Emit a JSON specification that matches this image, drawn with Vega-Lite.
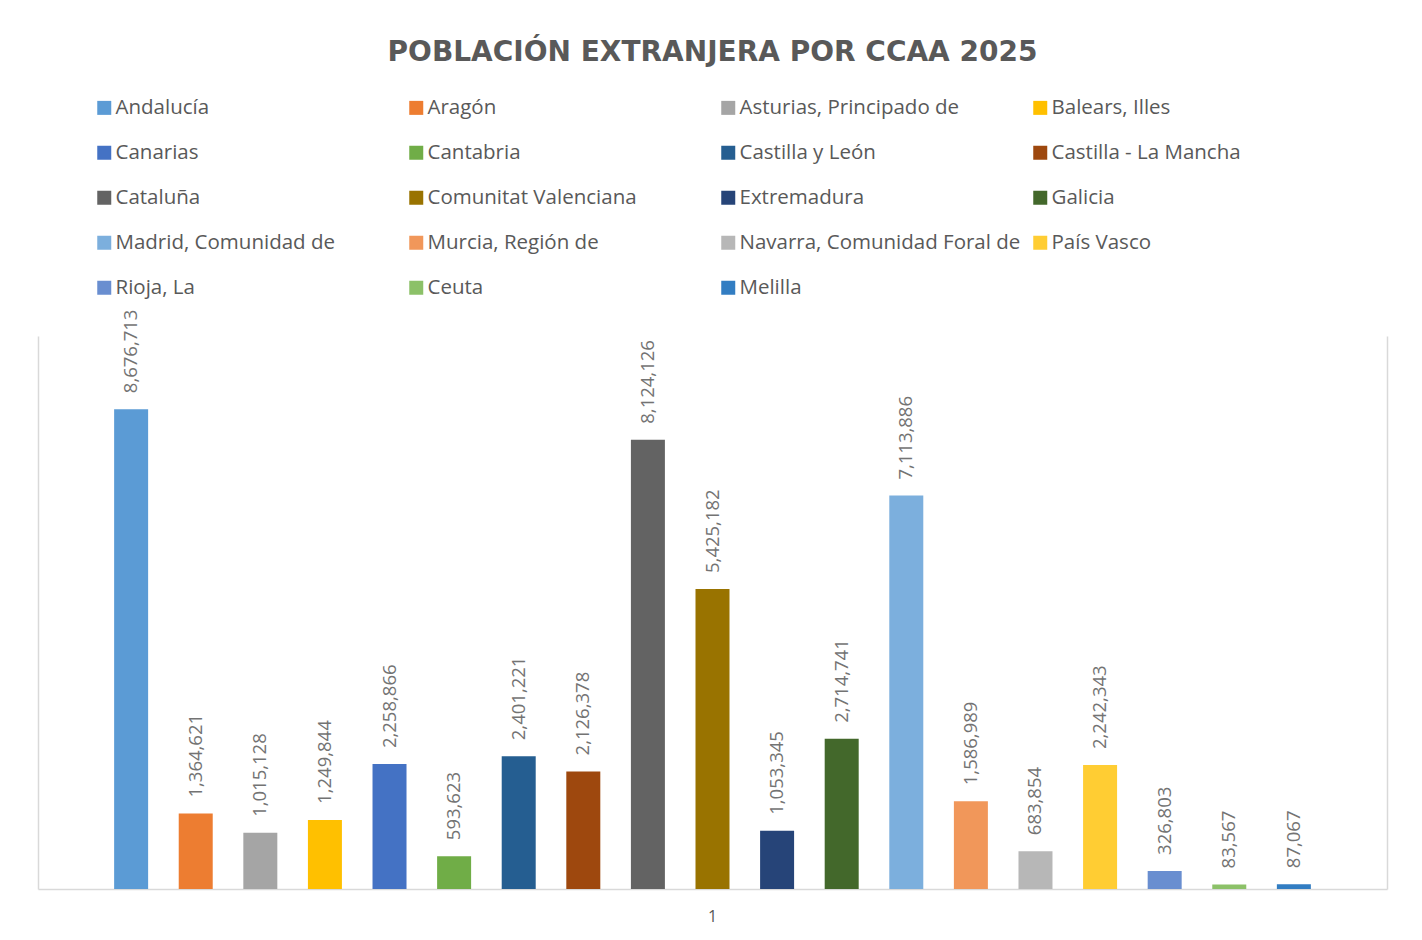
{
  "$schema": "https://vega.github.io/schema/vega-lite/v6.json",
  "autosize": {"type": "none"},
  "width": 1349,
  "height": 553,
  "padding": {"left": 38, "top": 336, "right": 35, "bottom": 51},
  "background": "white",
  "title": {
    "text": "POBLACIÓN EXTRANJERA POR CCAA 2025",
    "font": "DejaVu Sans",
    "fontSize": 28,
    "fontWeight": "bold",
    "color": "#595959",
    "anchor": "middle",
    "frame": "group",
    "offset": 31
  },
  "data": {
    "values": [
      {"cat": "1", "ccaa": "Andalucía", "poblacion": 8676713},
      {"cat": "1", "ccaa": "Aragón", "poblacion": 1364621},
      {"cat": "1", "ccaa": "Asturias, Principado de", "poblacion": 1015128},
      {"cat": "1", "ccaa": "Balears, Illes", "poblacion": 1249844},
      {"cat": "1", "ccaa": "Canarias", "poblacion": 2258866},
      {"cat": "1", "ccaa": "Cantabria", "poblacion": 593623},
      {"cat": "1", "ccaa": "Castilla y León", "poblacion": 2401221},
      {"cat": "1", "ccaa": "Castilla - La Mancha", "poblacion": 2126378},
      {"cat": "1", "ccaa": "Cataluña", "poblacion": 8124126},
      {"cat": "1", "ccaa": "Comunitat Valenciana", "poblacion": 5425182},
      {"cat": "1", "ccaa": "Extremadura", "poblacion": 1053345},
      {"cat": "1", "ccaa": "Galicia", "poblacion": 2714741},
      {"cat": "1", "ccaa": "Madrid, Comunidad de", "poblacion": 7113886},
      {"cat": "1", "ccaa": "Murcia, Región de", "poblacion": 1586989},
      {"cat": "1", "ccaa": "Navarra, Comunidad Foral de", "poblacion": 683854},
      {"cat": "1", "ccaa": "País Vasco", "poblacion": 2242343},
      {"cat": "1", "ccaa": "Rioja, La", "poblacion": 326803},
      {"cat": "1", "ccaa": "Ceuta", "poblacion": 83567},
      {"cat": "1", "ccaa": "Melilla", "poblacion": 87067}
    ]
  },
  "encoding": {
    "x": {
      "field": "cat",
      "type": "nominal",
      "title": null,
      "scale": {"paddingInner": 0, "paddingOuter": 0.0087},
      "axis": {
        "labelAngle": 0,
        "labelFont": "Open Sans",
        "labelFontSize": 16,
        "labelColor": "#595959",
        "labelPadding": 19,
        "ticks": false,
        "domainColor": "#d9d9d9",
        "domainWidth": 1.5
      }
    },
    "xOffset": {
      "field": "ccaa",
      "type": "nominal",
      "sort": null,
      "scale": {"paddingInner": 0.4737, "paddingOuter": 1}
    },
    "y": {
      "field": "poblacion",
      "type": "quantitative",
      "scale": {"domain": [0, 10000000], "nice": false},
      "title": null
    }
  },
  "layer": [
    {
      "mark": {"type": "bar"},
      "encoding": {
        "y": {
          "field": "poblacion",
          "type": "quantitative",
          "scale": {"domain": [0, 10000000], "nice": false},
          "title": null,
          "axis": {"labels": false, "ticks": false, "grid": false, "domainColor": "#d9d9d9", "domainWidth": 1.5, "orient": "left"}
        },
        "color": {
          "field": "ccaa",
          "type": "nominal",
          "sort": null,
          "scale": {
            "domain": ["Andalucía", "Aragón", "Asturias, Principado de", "Balears, Illes", "Canarias", "Cantabria", "Castilla y León", "Castilla - La Mancha", "Cataluña", "Comunitat Valenciana", "Extremadura", "Galicia", "Madrid, Comunidad de", "Murcia, Región de", "Navarra, Comunidad Foral de", "País Vasco", "Rioja, La", "Ceuta", "Melilla"],
            "range": ["#5B9BD5", "#ED7D31", "#A5A5A5", "#FFC000", "#4472C4", "#70AD47", "#255E91", "#9E480E", "#636363", "#997300", "#264478", "#43682B", "#7CAFDD", "#F1975A", "#B7B7B7", "#FFCD33", "#698ED0", "#8CC168", "#327DC2"]
          },
          "legend": {
            "title": null,
            "orient": "none",
            "legendX": 56,
            "legendY": -238.5,
            "columns": 4,
            "direction": "horizontal",
            "gridAlign": "all",
            "columnPadding": 9,
            "rowPadding": 24,
            "symbolType": "square",
            "symbolSize": 196,
            "symbolStrokeWidth": 0,
            "labelFont": "Open Sans",
            "labelFontSize": 20.5,
            "labelColor": "#595959",
            "labelLimit": 400,
            "labelOffset": 1
          }
        }
      }
    },
    {
      "mark": {
        "type": "text",
        "angle": 270,
        "align": "left",
        "baseline": "middle",
        "dx": 16,
        "font": "Open Sans",
        "fontSize": 18.5,
        "color": "#737373"
      },
      "encoding": {
        "y": {
          "field": "poblacion",
          "type": "quantitative",
          "scale": {"domain": [0, 10000000], "nice": false},
          "title": null,
          "axis": {"labels": false, "ticks": false, "grid": false, "domainColor": "#d9d9d9", "domainWidth": 1.5, "orient": "right"}
        },
        "text": {"field": "poblacion", "type": "quantitative", "format": ","}
      }
    }
  ],
  "resolve": {"axis": {"y": "independent"}},
  "config": {"view": {"stroke": null}}
}
